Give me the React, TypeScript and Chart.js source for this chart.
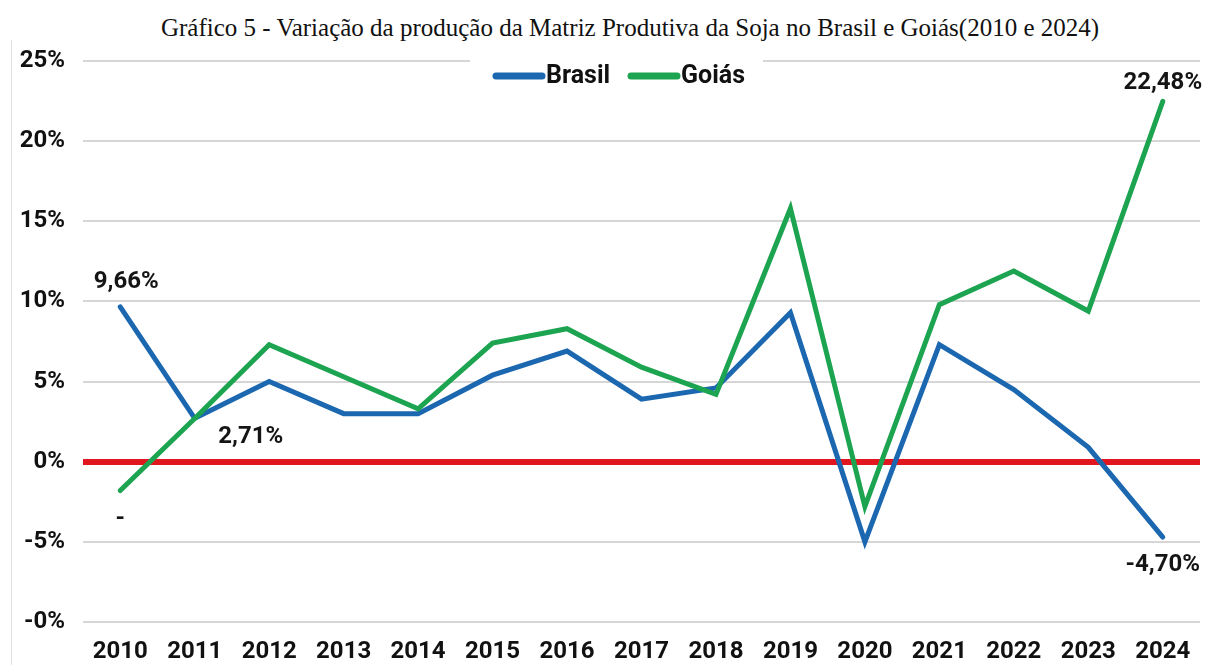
import React, { useEffect, useRef } from "react";
import { Chart, registerables } from "chart.js";

Chart.register(...registerables);

const TITLE = "Gráfico 5 - Variação da produção da Matriz Produtiva da Soja no Brasil e Goiás(2010 e 2024)";
const years = ["2010", "2011", "2012", "2013", "2014", "2015", "2016", "2017", "2018", "2019", "2020", "2021", "2022", "2023", "2024"];
const brasil = [9.66, 2.71, 5.0, 3.0, 3.0, 5.4, 6.9, 3.9, 4.6, 9.3, -5.0, 7.3, 4.5, 0.9, -4.7];
const goias = [-1.8, 2.7, 7.3, 5.3, 3.3, 7.4, 8.3, 5.9, 4.2, 15.8, -2.8, 9.8, 11.9, 9.4, 22.48];
const seriesNames = ["Brasil", "Goiás"];
const yTickValues = [-10, -5, 0, 5, 10, 15, 20, 25];
const yTickLabels = ["-0%", "-5%", "0%", "5%", "10%", "15%", "20%", "25%"];
// data labels: [dataset index, point index, text]
const labelSeries = [0, 0, 1, 1, 0];
const labelIndex = [0, 1, 0, 14, 14];
const labelTexts = ["9,66%", "2,71%", "-", "22,48%", "-4,70%"];
const labelOffsets: [number, number][] = [[6, -25], [56, 19], [0, 28], [0, -18], [0, 28]];

const BLUE = "#1c68b0";
const GREEN = "#1ca450";
const RED = "#e1161e";
const FONT = "Roboto, 'Noto Sans', sans-serif";

const legendPlugin = {
  id: "customLegend",
  beforeDatasetsDraw(chart: any) {
    const ctx = chart.ctx;
    const top = chart.chartArea.top;
    ctx.save();
    ctx.fillStyle = "#ffffff";
    ctx.fillRect(470, top - 6, 293, 42);
    const items = [
      { x: 496, color: BLUE, name: seriesNames[0] },
      { x: 631, color: GREEN, name: seriesNames[1] },
    ];
    const y = top + 15;
    ctx.font = `bold 25px ${FONT}`;
    ctx.textBaseline = "middle";
    ctx.textAlign = "left";
    for (const it of items) {
      ctx.strokeStyle = it.color;
      ctx.lineWidth = 7;
      ctx.lineCap = "round";
      ctx.beginPath();
      ctx.moveTo(it.x, y);
      ctx.lineTo(it.x + 46, y);
      ctx.stroke();
      ctx.fillStyle = "#111111";
      ctx.fillText(it.name, it.x + 50, y + 1);
    }
    ctx.restore();
  },
};

const dataLabelPlugin = {
  id: "dataLabels",
  afterDatasetsDraw(chart: any) {
    const ctx = chart.ctx;
    ctx.save();
    ctx.font = `bold 24px ${FONT}`;
    ctx.fillStyle = "#151515";
    ctx.textAlign = "center";
    ctx.textBaseline = "middle";
    labelTexts.forEach((t, i) => {
      const meta = chart.getDatasetMeta(labelSeries[i]);
      const pt = meta.data[labelIndex[i]];
      if (!pt) return;
      ctx.fillText(t, pt.x + labelOffsets[i][0], pt.y + labelOffsets[i][1]);
    });
    ctx.restore();
  },
};

export default function App() {
  const ref = useRef<HTMLCanvasElement | null>(null);
  useEffect(() => {
    if (!ref.current) return;
    const chart = new Chart(ref.current, {
      type: "line",
      data: {
        labels: years,
        datasets: [
          {
            label: seriesNames[0],
            data: brasil,
            borderColor: BLUE,
            backgroundColor: BLUE,
            borderWidth: 5,
            pointRadius: 0,
            tension: 0,
            borderCapStyle: "round",
            order: 1,
          },
          {
            label: seriesNames[1],
            data: goias,
            borderColor: GREEN,
            backgroundColor: GREEN,
            borderWidth: 5,
            pointRadius: 0,
            tension: 0,
            borderCapStyle: "round",
            order: 0,
          },
        ],
      },
      options: {
        responsive: false,
        animation: false,
        devicePixelRatio: 1,
        layout: { padding: { top: 61, right: 8, left: 0, bottom: 0 } },
        plugins: {
          legend: { display: false },
          title: { display: false },
          tooltip: { enabled: false },
        },
        scales: {
          x: {
            type: "category",
            offset: true,
            grid: { display: false, drawTicks: false },
            border: { display: false },
            ticks: {
              padding: 16,
              color: "#111111",
              font: { family: FONT, size: 24, weight: "bold" },
              maxRotation: 0,
              autoSkip: false,
            },
            afterFit: (s: any) => {
              s.height = 43;
            },
          },
          y: {
            min: -10,
            max: 25,
            afterBuildTicks: (s: any) => {
              s.ticks = yTickValues.map((v) => ({ value: v }));
            },
            grid: {
              drawTicks: false,
              color: (c: any) => (c.tick && c.tick.value === 0 ? RED : "#d6d6d6"),
              lineWidth: (c: any) => (c.tick && c.tick.value === 0 ? 6 : 2),
            },
            border: { display: false },
            ticks: {
              padding: 18,
              color: "#111111",
              font: { family: FONT, size: 24, weight: "bold" },
              callback: (v: any) => {
                const i = yTickValues.indexOf(Number(v));
                return i >= 0 ? yTickLabels[i] : "";
              },
            },
            afterFit: (s: any) => {
              s.width = 83;
            },
          },
        },
      },
      plugins: [legendPlugin, dataLabelPlugin],
    });
    return () => chart.destroy();
  }, []);

  return (
    <div style={{ position: "fixed", left: 0, top: 0, width: 1208, height: 665, background: "#ffffff", overflow: "hidden" }}>
      <div
        style={{
          position: "absolute",
          left: 0,
          top: 13,
          width: 1208,
          textAlign: "center",
          fontFamily: "'Liberation Serif', 'Times New Roman', serif",
          fontSize: 25,
          lineHeight: "30px",
          color: "#111111",
          transform: "translateX(26px)",
          whiteSpace: "nowrap",
        }}
      >
        {TITLE}
      </div>
      <div style={{ position: "absolute", left: 11, top: 40, width: 1, height: 625, background: "#e2e2e2" }} />
      <canvas ref={ref} width={1208} height={665} style={{ position: "absolute", left: 0, top: 0, width: 1208, height: 665 }} />
    </div>
  );
}
